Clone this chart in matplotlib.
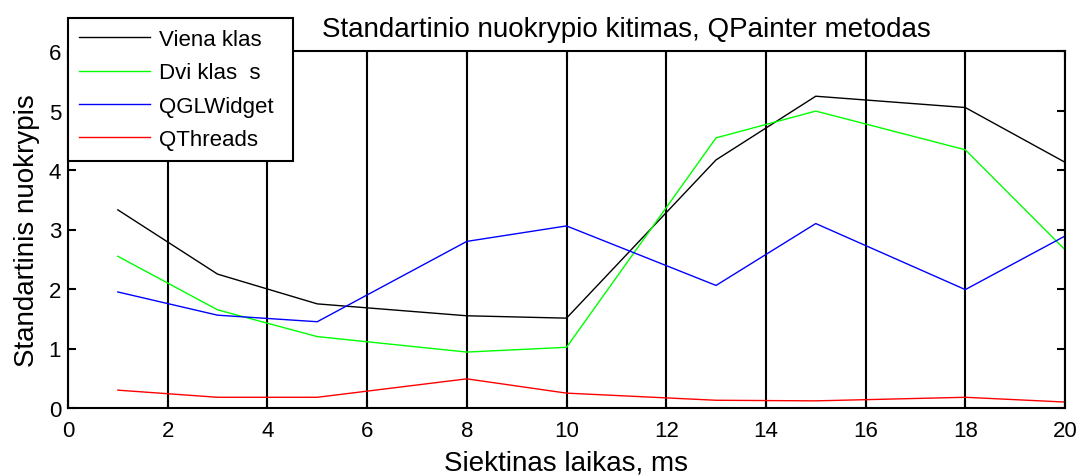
import matplotlib.pyplot as plt

plt.rcParams['font.family'] = ['Liberation Sans', 'DejaVu Sans']

# measured standard deviation per target time
laikas = [1, 3, 5, 8, 10, 13, 15, 18, 20]
viena_klase = [3.33, 2.25, 1.75, 1.55, 1.51, 4.17, 5.24, 5.05, 4.13]
dvi_klases = [2.55, 1.65, 1.20, 0.94, 1.02, 4.54, 4.99, 4.34, 2.66]
qglwidget = [1.95, 1.56, 1.45, 2.80, 3.06, 2.06, 3.10, 1.99, 2.89]
qthreads = [0.30, 0.18, 0.18, 0.49, 0.25, 0.13, 0.12, 0.18, 0.10]

labels = ['Viena klas', 'Dvi klas  s', 'QGLWidget', 'QThreads']
colors = ['k', '#00ff00', '#0000ff', '#ff0000']

W, H = 1078, 477
fig = plt.figure(figsize=(W / 100, H / 100), dpi=100)
ax = fig.add_axes([68 / W, 1 - 409 / H, (1065 - 68) / W, (409 - 52) / H])

for ys, lab, c in zip([viena_klase, dvi_klases, qglwidget, qthreads], labels, colors):
    ax.plot(laikas, ys, color=c, lw=1.0, label=lab)

ax.set_xlim(0, 20)
ax.set_ylim(0, 6)
ax.set_xticks(range(0, 21, 2))
ax.set_yticks(range(0, 7))
ax.xaxis.grid(True, color='k', lw=1.5)
ax.set_axisbelow(True)
ax.tick_params(direction='in', length=6, width=1.5, labelsize=16,
               top=True, right=True)
ax.tick_params(axis='x', pad=9)
ax.tick_params(axis='y', pad=5)
for s in ax.spines.values():
    s.set_linewidth(1.5)

ax.set_xlabel('Siektinas laikas, ms', fontsize=20, labelpad=6)
ax.set_ylabel('Standartinis nuokrypis', fontsize=20, labelpad=6)
fig.text(626 / W, 1 - 30 / H, 'Standartinio nuokrypio kitimas, QPainter metodas',
         fontsize=20, ha='center', va='center')

# legend box hangs above the axes, left edge on the y axis
leg = ax.legend(loc='upper left',
                bbox_to_anchor=(68 / W, 1 - 19 / H - 0.01, (293 - 68) / W, 0.01),
                bbox_transform=fig.transFigure, mode='expand', borderaxespad=0,
                fancybox=False, edgecolor='k', framealpha=1, fontsize=16,
                handlelength=3.2, handletextpad=0.4, labelspacing=0.55, borderpad=0.5)
leg.get_frame().set_linewidth(1.5)

fig.savefig('out.png', dpi=100)
